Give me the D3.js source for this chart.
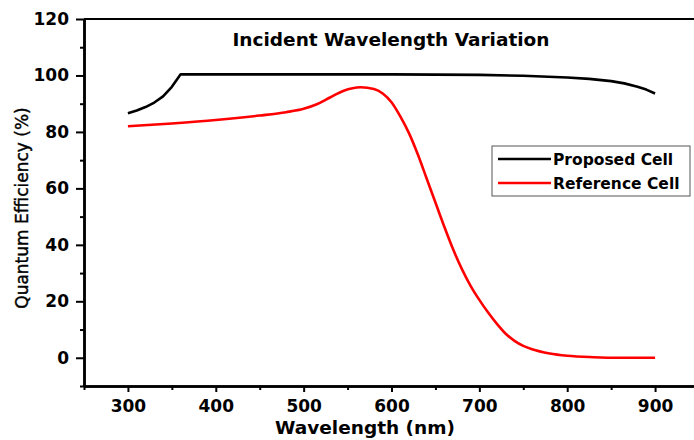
<!DOCTYPE html>
<html>
<head>
<meta charset="utf-8">
<script src="https://cdn.jsdelivr.net/npm/d3@7"></script>
<style>
  body { margin: 0; background: #fff; }
  svg { display: block; font-family: "DejaVu Sans", sans-serif; }
</style>
</head>
<body>
<svg id="chart" width="694" height="440"></svg>
<script>
// Proposed cell
const proposedWl = [300, 310, 320, 330, 340, 350, 360, 400, 500, 600, 700, 750, 800, 825, 850, 865, 880, 890, 900];
const proposedQe = [86.6, 87.6, 88.8, 90.4, 92.6, 96, 100.4, 100.4, 100.4, 100.4, 100.2, 99.9, 99.3, 98.8, 98, 97.2, 96, 95, 93.6];

// Reference cell
const referenceWl = [300, 350, 400, 450, 480, 500, 515, 530, 545, 565, 580, 590, 600, 610, 620, 630, 640, 650, 660, 670, 680, 690, 700, 710, 720, 730, 740, 750, 760, 780, 800, 830, 860, 900];
const referenceQe = [82, 83, 84.2, 85.8, 87, 88.2, 89.8, 92.2, 94.5, 95.8, 95.2, 93.6, 90.5, 85.5, 79.5, 72, 63.5, 55, 46.5, 38.5, 31.5, 25.5, 20.5, 16, 12, 8.5, 6, 4.2, 3, 1.5, 0.7, 0.2, 0, 0];

const legendLabels = ["Proposed Cell", "Reference Cell"];
const seriesColors = ["#000000", "#ff0000"];

const xMajorTicks = [300, 400, 500, 600, 700, 800, 900];
const xMinorTicks = [250, 350, 450, 550, 650, 750, 850, 950];
const yMajorTicks = [0, 20, 40, 60, 80, 100, 120];
const yMinorTicks = [-10, 10, 30, 50, 70, 90, 110];

const svg = d3.select("#chart");

const x = d3.scaleLinear().domain([250, 950]).range([84, 699]);
const y = d3.scaleLinear().domain([-10, 120]).range([386, 19]);

// frame (top line, right side falls outside the picture)
svg.append("path")
  .attr("d", `M${x(250)},${y(120)}H${x(950)}V${y(-10)}`)
  .attr("fill", "none")
  .attr("stroke", "#000")
  .attr("stroke-width", 2);

// bottom axis
const xAxis = svg.append("g")
  .attr("transform", `translate(0,${y(-10)})`)
  .call(d3.axisBottom(x).tickValues(xMajorTicks).tickSize(6).tickPadding(5).tickSizeOuter(0));
svg.append("g")
  .attr("transform", `translate(0,${y(-10)})`)
  .call(d3.axisBottom(x).tickValues(xMinorTicks).tickSize(4).tickFormat("").tickSizeOuter(0));

// left axis
const yAxis = svg.append("g")
  .attr("transform", `translate(${x(250)},0)`)
  .call(d3.axisLeft(y).tickValues(yMajorTicks).tickSize(8).tickPadding(7).tickSizeOuter(0));
svg.append("g")
  .attr("transform", `translate(${x(250)},0)`)
  .call(d3.axisLeft(y).tickValues(yMinorTicks).tickSize(4).tickFormat("").tickSizeOuter(0));

svg.selectAll(".domain").attr("stroke", "#000").attr("stroke-width", 2.5);
svg.selectAll(".tick line").attr("stroke", "#000").attr("stroke-width", 2);
svg.selectAll(".tick text")
  .attr("fill", "#000")
  .style("font-family", "'DejaVu Sans', sans-serif")
  .style("font-size", "17px")
  .style("font-weight", "bold");
xAxis.selectAll(".tick text").attr("dy", "0.9em");

// axis titles
svg.append("text")
  .attr("x", 365)
  .attr("y", 434)
  .attr("text-anchor", "middle")
  .style("font-size", "18.5px")
  .style("font-weight", "bold")
  .text("Wavelength (nm)");

svg.append("text")
  .attr("transform", "translate(28,208) rotate(-90)")
  .attr("text-anchor", "middle")
  .style("font-size", "17px")
  .style("stroke", "#000")
  .style("stroke-width", 0.4)
  .text("Quantum Efficiency (%)");

// chart title
svg.append("text")
  .attr("x", 391)
  .attr("y", 46)
  .attr("text-anchor", "middle")
  .style("font-size", "18.5px")
  .style("font-weight", "bold")
  .text("Incident Wavelength Variation");

// lines
const lineSmooth = d3.line()
  .x(d => x(d[0]))
  .y(d => y(d[1]))
  .curve(d3.curveMonotoneX);
const lineStraight = d3.line()
  .x(d => x(d[0]))
  .y(d => y(d[1]));

const series = [
  proposedWl.map((w, i) => [w, proposedQe[i]]),
  referenceWl.map((w, i) => [w, referenceQe[i]])
];
const lineGens = [lineStraight, lineSmooth];

series.forEach((s, i) => {
  svg.append("path")
    .datum(s)
    .attr("fill", "none")
    .attr("stroke", seriesColors[i])
    .attr("stroke-width", 2.6)
    .attr("stroke-linejoin", "round")
    .attr("d", lineGens[i]);
});

// legend
const legend = svg.append("g").attr("transform", "translate(492,146)");
legend.append("rect")
  .attr("width", 198)
  .attr("height", 50)
  .attr("fill", "#fff")
  .attr("stroke", "#555")
  .attr("stroke-width", 1);

legendLabels.forEach((label, i) => {
  const ly = 13 + i * 24;
  legend.append("line")
    .attr("x1", 6)
    .attr("x2", 59)
    .attr("y1", ly)
    .attr("y2", ly)
    .attr("stroke", seriesColors[i])
    .attr("stroke-width", 2.6);
  legend.append("text")
    .attr("x", 61)
    .attr("y", ly + 5.5)
    .style("font-size", "15.5px")
    .style("font-weight", "bold")
    .text(label);
});
</script>
</body>
</html>
